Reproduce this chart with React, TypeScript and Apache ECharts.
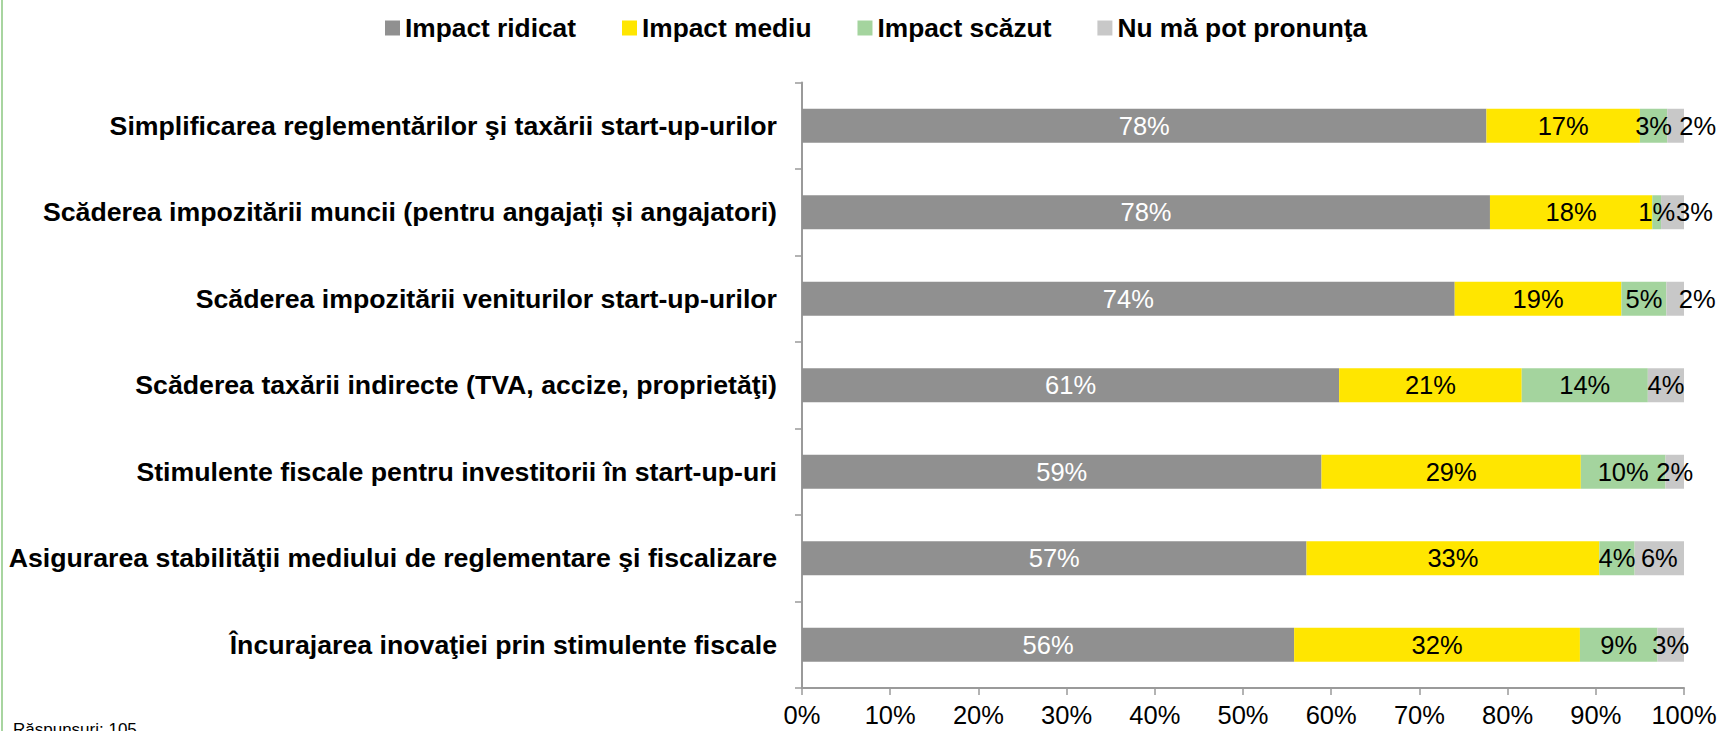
import React, { useEffect, useRef } from "react";
import * as echarts from "echarts";

const categories = [
  "Simplificarea reglementărilor şi taxării start-up-urilor",
  "Scăderea impozitării muncii (pentru angajați și angajatori)",
  "Scăderea impozitării veniturilor start-up-urilor",
  "Scăderea taxării indirecte (TVA, accize, proprietăţi)",
  "Stimulente fiscale pentru investitorii în start-up-uri",
  "Asigurarea stabilităţii mediului de reglementare şi fiscalizare",
  "Încurajarea inovaţiei prin stimulente fiscale",
];

const seriesNames = ["Impact ridicat", "Impact mediu", "Impact scăzut", "Nu mă pot pronunţa"];

const impactRidicat = [77.6, 78.0, 74.0, 60.9, 58.9, 57.2, 55.8];
const impactMediu = [17.4, 18.4, 18.9, 20.7, 29.4, 33.2, 32.4];
const impactScazut = [3.1, 1.0, 5.1, 14.3, 9.6, 4.0, 8.8];
const nuMaPot = [1.9, 2.6, 2.0, 4.1, 2.1, 5.6, 3.0];

const xTicks = [0, 10, 20, 30, 40, 50, 60, 70, 80, 90, 100];

const colors = ["#909090", "#FFE600", "#A4D49E", "#C8C8C8"];
const labelColors = ["#ffffff", "#000000", "#000000", "#000000"];
// rows whose last ("Nu mă pot pronunţa") label sits to the right of the bar
const shiftedLastRows = [0, 1, 2];

const FONT = "'Liberation Sans', Arial, sans-serif";

export default function App() {
  const ref = useRef<HTMLDivElement>(null);

  useEffect(() => {
    document.body.style.margin = "0";
    if (!ref.current) return;
    const chart = echarts.init(ref.current, undefined, { renderer: "svg" });
    const allData = [impactRidicat, impactMediu, impactScazut, nuMaPot];

    const series = allData.map((vals, si) => ({
      name: seriesNames[si],
      type: "bar",
      stack: "total",
      barWidth: 34,
      itemStyle: { color: colors[si] },
      label: {
        show: true,
        position: "inside",
        color: labelColors[si],
        fontFamily: FONT,
        fontSize: 25.5,
        formatter: (p: any) => Math.round(p.value) + "%",
      },
      data: vals.map((v, i) =>
        si === 3 && shiftedLastRows.includes(i)
          ? { value: v, label: { offset: [22, 0] } }
          : v
      ),
    }));

    chart.setOption({
      animation: false,
      textStyle: { fontFamily: FONT },
      legend: {
        left: 380,
        top: 10,
        icon: "rect",
        itemWidth: 15,
        itemHeight: 15,
        itemGap: 46,
        textStyle: { fontFamily: FONT, fontSize: 26.3, fontWeight: "bold", color: "#000" },
        data: seriesNames,
      },
      grid: { left: 802, right: 39, top: 82.5, bottom: 43, containLabel: false },
      xAxis: {
        type: "value",
        min: xTicks[0],
        max: xTicks[xTicks.length - 1],
        interval: 10,
        axisLine: { show: true, lineStyle: { color: "#9a9a9a", width: 2 } },
        axisTick: { show: true, length: 7, lineStyle: { color: "#9a9a9a", width: 1.5 } },
        splitLine: { show: false },
        axisLabel: {
          formatter: "{value}%",
          fontFamily: FONT,
          fontSize: 25.5,
          color: "#000",
          margin: 14,
        },
      },
      yAxis: {
        type: "category",
        inverse: true,
        data: categories,
        axisLine: { show: true, lineStyle: { color: "#9a9a9a", width: 2 } },
        axisTick: { show: true, length: 7, alignWithLabel: false, lineStyle: { color: "#9a9a9a", width: 1.5 } },
        axisLabel: {
          fontFamily: FONT,
          fontSize: 26.7,
          fontWeight: "bold",
          color: "#000",
          margin: 25,
        },
      },
      graphic: [
        {
          type: "rect",
          left: 1,
          top: 0,
          shape: { width: 2, height: 731 },
          style: { fill: "#A8D5A0" },
        },
        {
          type: "text",
          left: 13,
          top: 721,
          style: { text: "Răspunsuri: 105", font: "17px 'Liberation Sans', Arial", fill: "#000" },
        },
      ],
      series,
    });
    return () => chart.dispose();
  }, []);

  return <div ref={ref} style={{ width: 1723, height: 731 }} />;
}
